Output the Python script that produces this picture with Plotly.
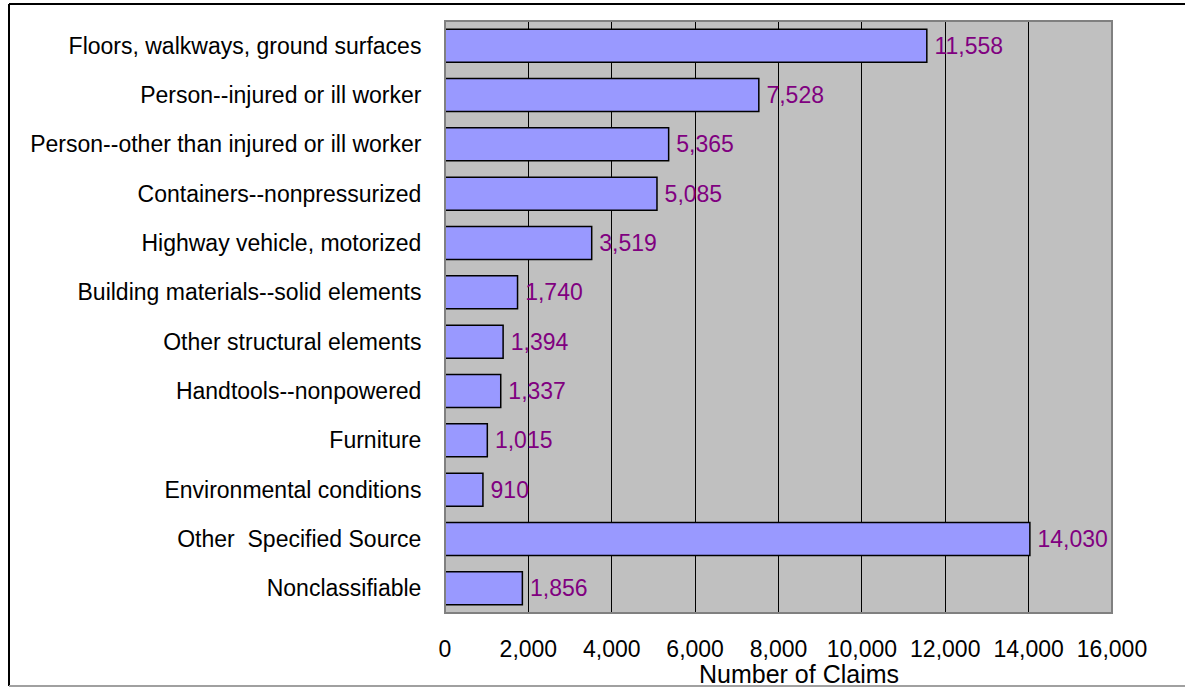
import plotly.graph_objects as go

# Sources of injury and their claim counts
sources = [
    "Floors, walkways, ground surfaces",
    "Person--injured or ill worker",
    "Person--other than injured or ill worker",
    "Containers--nonpressurized",
    "Highway vehicle, motorized",
    "Building materials--solid elements",
    "Other structural elements",
    "Handtools--nonpowered",
    "Furniture",
    "Environmental conditions",
    "Other  Specified Source",
    "Nonclassifiable",
]
claims = [11558, 7528, 5365, 5085, 3519, 1740, 1394, 1337, 1015, 910, 14030, 1856]
x_ticks = [0, 2000, 4000, 6000, 8000, 10000, 12000, 14000, 16000]
x_title = "Number of Claims"

W, H = 1185, 687
L, R, T, B = 445, 73, 21, 74

def px_x(p):
    return (p - L) / (W - L - R)

def px_y(p):
    return (H - B - p) / (H - T - B)

FONT = "Liberation Sans, Arial, sans-serif"
FS = 23

fig = go.Figure(
    go.Bar(
        x=claims,
        y=sources,
        orientation="h",
        marker=dict(color="#9999FF", line=dict(color="#000000", width=1.5)),
        text=[f"{v:,}" for v in claims],
        texttemplate="\u2009%{text}",
        textposition="outside",
        textfont=dict(family=FONT, size=FS, color="#800080"),
        cliponaxis=False,
        width=0.67,
    )
)

fig.update_layout(
    width=W,
    height=H,
    margin=dict(l=L, r=R, t=T, b=B, pad=0, autoexpand=False),
    paper_bgcolor="#FFFFFF",
    plot_bgcolor="#C0C0C0",
    showlegend=False,
    font=dict(family=FONT, size=FS, color="#000000"),
)

fig.update_xaxes(
    range=[0, 16000],
    tickvals=x_ticks,
    ticktext=[f"{v:,}" for v in x_ticks],
    showgrid=True,
    gridcolor="#000000",
    gridwidth=1,
    zeroline=False,
    showline=False,
    ticks="outside",
    ticklen=15,
    tickcolor="rgba(0,0,0,0)",
    tickfont=dict(family=FONT, size=FS, color="#000000"),
    automargin=False,
    fixedrange=True,
)

fig.update_yaxes(
    autorange="reversed",
    showgrid=False,
    zeroline=False,
    showline=False,
    ticks="outside",
    ticklen=18,
    tickcolor="rgba(0,0,0,0)",
    tickfont=dict(family=FONT, size=FS, color="#000000"),
    automargin=False,
    fixedrange=True,
)

# Axis title below the tick labels
fig.add_annotation(
    text=x_title, xref="paper", yref="paper",
    x=px_x(799), y=px_y(674), xanchor="center", yanchor="middle",
    showarrow=False, font=dict(family=FONT, size=25, color="#000000"),
)

# Plot-area frame, outer figure frame
fig.add_shape(type="rect", xref="paper", yref="paper", x0=0, x1=1, y0=0, y1=1,
              line=dict(color="#808080", width=2), layer="above")
fig.add_shape(type="line", xref="paper", yref="paper",
              x0=px_x(9), x1=px_x(W + 5), y0=px_y(4), y1=px_y(4),
              line=dict(color="#000000", width=2))
fig.add_shape(type="line", xref="paper", yref="paper",
              x0=px_x(9), x1=px_x(9), y0=px_y(4), y1=px_y(686),
              line=dict(color="#000000", width=2))
fig.add_shape(type="line", xref="paper", yref="paper",
              x0=px_x(9), x1=px_x(W + 5), y0=px_y(686), y1=px_y(686),
              line=dict(color="#A0A0A0", width=2))

fig.write_html("out.html")
